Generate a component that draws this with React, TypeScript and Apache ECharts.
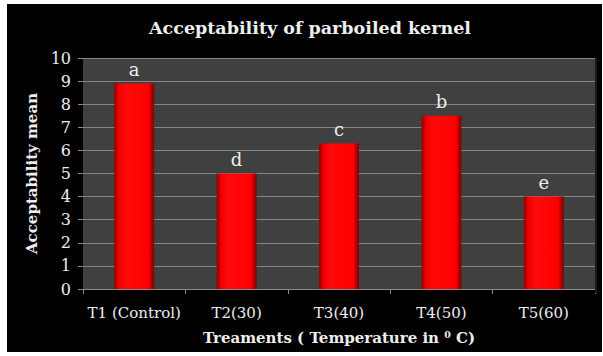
import React, { useEffect, useRef } from "react";
import * as echarts from "echarts";

const categories = ["T1 (Control)", "T2(30)", "T3(40)", "T4(50)", "T5(60)"];
const values = [8.9, 5.0, 6.3, 7.5, 4.0];
const letters = ["a", "d", "c", "b", "e"];
const yTicks = { min: 0, max: 10, interval: 1 };

const SERIF = "'DejaVu Serif', 'Liberation Serif', serif";

export default function App() {
  const ref = useRef<HTMLDivElement>(null);
  useEffect(() => {
    document.body.style.margin = "0";
    const chart = echarts.init(ref.current!, null, { renderer: "svg" });
    chart.setOption({
      animation: false,
      backgroundColor: "#000000",
      graphic: [
        {
          type: "text",
          x: 303,
          y: 24,
          style: {
            text: "Acceptability of parboiled kernel",
            fill: "#eeeeee",
            font: `bold 17.5px ${SERIF}`,
            textAlign: "center",
            textVerticalAlign: "middle",
          },
        },
        {
          type: "rect",
          shape: { x: 588, y: 54, width: 2, height: 235 },
          style: { fill: "#1a1a1a" },
          z: 10,
        },
      ],
      grid: {
        left: 76,
        top: 54,
        right: 7,
        bottom: 63,
        show: true,
        backgroundColor: "#404040",
        borderWidth: 0,
      },
      xAxis: {
        type: "category",
        data: categories,
        name: "Treaments ( Temperature in \u2070 C)",
        nameLocation: "middle",
        nameGap: 41,
        nameTextStyle: { color: "#eeeeee", fontFamily: SERIF, fontWeight: "bold", fontSize: 15 },
        axisLine: { lineStyle: { color: "#8a8a8a", width: 1 } },
        axisTick: { show: true, length: 5, lineStyle: { color: "#8a8a8a" } },
        axisLabel: {
          color: "#eeeeee",
          fontFamily: SERIF,
          fontSize: 15,
          margin: 16,
          interval: 0,
          hideOverlap: false,
        },
        splitLine: { show: false },
      },
      yAxis: {
        type: "value",
        min: yTicks.min,
        max: yTicks.max,
        interval: yTicks.interval,
        name: "Acceptability mean",
        nameLocation: "middle",
        nameGap: 37,
        nameRotate: 90,
        nameTextStyle: { color: "#eeeeee", fontFamily: SERIF, fontWeight: "bold", fontSize: 15 },
        axisLine: { show: false },
        axisTick: { show: true, length: 5, lineStyle: { color: "#8a8a8a" } },
        axisLabel: { color: "#eeeeee", fontFamily: SERIF, fontSize: 16, margin: 12 },
        splitLine: { show: true, lineStyle: { color: "#858585", width: 1 } },
      },
      series: [
        {
          type: "bar",
          data: values,
          barWidth: "39%",
          itemStyle: {
            color: new echarts.graphic.LinearGradient(0, 0, 1, 0, [
              { offset: 0, color: "#8f0000" },
              { offset: 0.12, color: "#f00000" },
              { offset: 0.3, color: "#ff0a0a" },
              { offset: 0.85, color: "#ff0000" },
              { offset: 1, color: "#7a0000" },
            ]),
          },
          label: {
            show: true,
            position: "top",
            distance: 5,
            color: "#eeeeee",
            fontFamily: SERIF,
            fontSize: 18,
            formatter: (p: any) => letters[p.dataIndex],
          },
        },
      ],
    });
    return () => chart.dispose();
  }, []);
  return (
    <div style={{ position: "relative", width: 603, height: 356, background: "#ffffff" }}>
      <div ref={ref} style={{ position: "absolute", left: 7, top: 4, width: 595, height: 348 }} />
    </div>
  );
}
